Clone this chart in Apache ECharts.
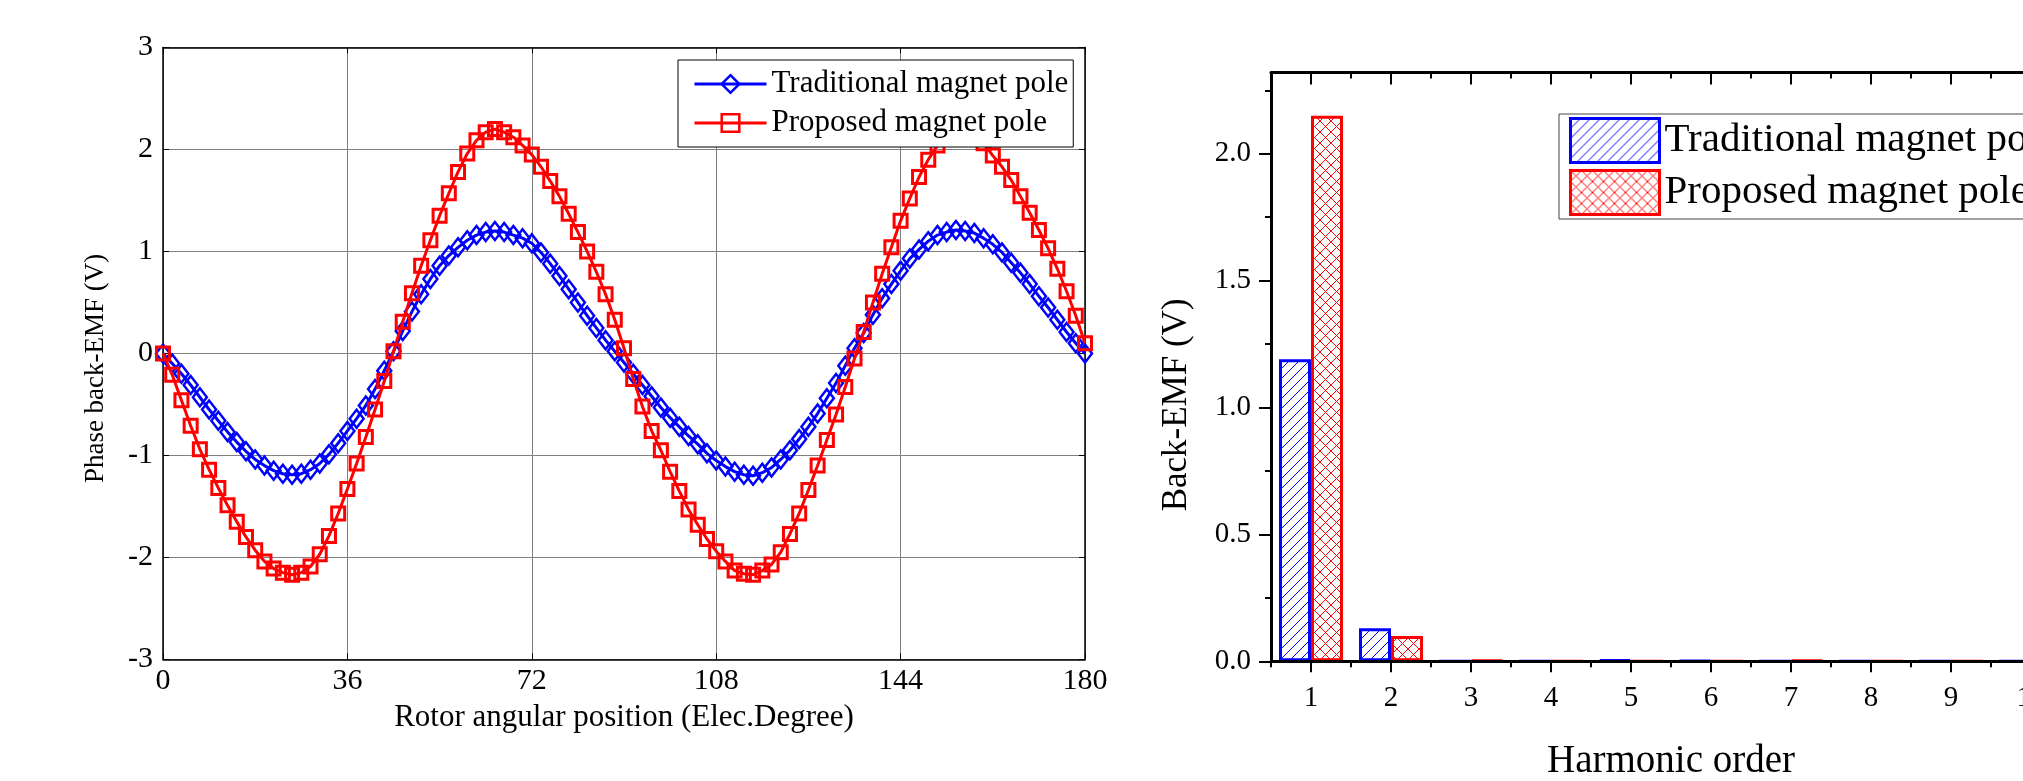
<!DOCTYPE html>
<html>
<head>
<meta charset="utf-8">
<script src="https://cdn.jsdelivr.net/npm/echarts@6/dist/echarts.min.js"></script>
<style>
html,body{margin:0;padding:0;background:#fff;overflow:hidden;}
#wrap{width:2023px;height:781px;overflow:hidden;position:relative;}
#c{width:2200px;height:781px;position:absolute;left:0;top:0;}
</style>
</head>
<body>
<div id="wrap"><div id="c"></div></div>
<script>
// ---------- Left chart data: phase back-EMF vs rotor position ----------
const angles = [0,1.8,3.6,5.4,7.2,9,10.8,12.6,14.4,16.2,18,19.8,21.6,23.4,25.2,27,28.8,30.6,32.4,34.2,
36,37.8,39.6,41.4,43.2,45,46.8,48.6,50.4,52.2,54,55.8,57.6,59.4,61.2,63,64.8,66.6,68.4,70.2,
72,73.8,75.6,77.4,79.2,81,82.8,84.6,86.4,88.2,90,91.8,93.6,95.4,97.2,99,100.8,102.6,104.4,106.2,
108,109.8,111.6,113.4,115.2,117,118.8,120.6,122.4,124.2,126,127.8,129.6,131.4,133.2,135,136.8,138.6,140.4,142.2,
144,145.8,147.6,149.4,151.2,153,154.8,156.6,158.4,160.2,162,163.8,165.6,167.4,169.2,171,172.8,174.6,176.4,178.2,180];

const traditionalEMF = [
0,-0.10,-0.20,-0.31,-0.43,-0.55,-0.66,-0.77,-0.87,-0.96,
-1.04,-1.10,-1.15,-1.18,-1.19,-1.18,-1.14,-1.08,-0.99,-0.88,
-0.76,-0.64,-0.51,-0.35,-0.17,0.02,0.22,0.41,0.58,0.73,
0.86,0.96,1.04,1.11,1.16,1.19,1.20,1.19,1.16,1.13,
1.08,0.99,0.88,0.76,0.63,0.50,0.37,0.25,0.13,0.02,
-0.09,-0.20,-0.31,-0.42,-0.53,-0.63,-0.72,-0.81,-0.89,-0.98,
-1.05,-1.11,-1.16,-1.19,-1.20,-1.17,-1.12,-1.04,-0.95,-0.84,
-0.72,-0.59,-0.44,-0.29,-0.12,0.05,0.20,0.38,0.54,0.68,
0.81,0.93,1.02,1.10,1.16,1.19,1.21,1.20,1.18,1.13,
1.07,0.99,0.89,0.79,0.68,0.56,0.45,0.33,0.21,0.10,
0.00];

const proposedEMF = [
0,-0.21,-0.46,-0.71,-0.94,-1.14,-1.32,-1.49,-1.65,-1.80,
-1.93,-2.04,-2.11,-2.15,-2.17,-2.15,-2.09,-1.97,-1.79,-1.57,
-1.33,-1.08,-0.82,-0.55,-0.27,0.02,0.31,0.59,0.86,1.11,
1.35,1.57,1.78,1.96,2.09,2.17,2.20,2.17,2.12,2.04,
1.95,1.83,1.69,1.54,1.37,1.19,1.00,0.80,0.58,0.33,
0.05,-0.25,-0.52,-0.76,-0.95,-1.16,-1.35,-1.53,-1.68,-1.82,
-1.94,-2.04,-2.13,-2.16,-2.17,-2.13,-2.07,-1.95,-1.77,-1.57,
-1.34,-1.10,-0.85,-0.60,-0.33,-0.05,0.21,0.50,0.78,1.04,
1.30,1.52,1.73,1.90,2.04,2.13,2.18,2.20,2.16,2.06,
1.94,1.83,1.70,1.54,1.38,1.21,1.03,0.83,0.61,0.37,
0.10];

const seriesNames = ['Traditional magnet pole', 'Proposed magnet pole'];

// ---------- Right chart data: harmonic spectrum ----------
const harmonicOrders = ['1','2','3','4','5','6','7','8','9','10'];
const traditionalHarmonics = [1.19, 0.13, 0, 0, 0.006, 0.003, 0, 0, 0, 0];
const proposedHarmonics   = [2.15, 0.10, 0.004, 0, 0, 0, 0.004, 0, 0, 0];
const harmonicYTicks = [0, 0.5, 1, 1.5, 2];
const harmonicYMinorTicks = [0.25, 0.75, 1.25, 1.75, 2.25];

// ---------- styling ----------
const FONT = "'Liberation Serif','Times New Roman',serif";
const BLUE = '#0000ff';
const RED = '#ff0000';

function hatch(color, size, cross) {
  const c = document.createElement('canvas');
  c.width = size; c.height = size;
  const g = c.getContext('2d');
  g.fillStyle = '#ffffff';
  g.fillRect(0, 0, size, size);
  g.strokeStyle = color;
  g.lineWidth = 1;
  g.beginPath();
  g.moveTo(-1, size + 1); g.lineTo(size + 1, -1);
  if (cross) { g.moveTo(-1, -1); g.lineTo(size + 1, size + 1); }
  g.stroke();
  return c;
}
const bluePattern = { image: hatch(BLUE, 10, false), repeat: 'repeat' };
const redPattern = { image: hatch(RED, 11, true), repeat: 'repeat' };

const lineData = (vals) => angles.map((a, i) => [a, vals[i]]);

const chart = echarts.init(document.getElementById('c'), null, { renderer: 'canvas' });

const blackLine = { show: true, onZero: false, lineStyle: { color: '#000', width: 1.5 } };

const option = {
  animation: false,
  backgroundColor: '#fff',
  textStyle: { fontFamily: FONT, color: '#000' },
  grid: [
    { left: 163, top: 47.5, width: 922, height: 611.8, outerBoundsMode: 'none', containLabel: false },
    { left: 1271, top: 72.5, width: 800, height: 588.8, outerBoundsMode: 'none', containLabel: false }
  ],
  legend: [
    {
      data: seriesNames,
      orient: 'vertical',
      left: 678, top: 60, z: 20,
      padding: [7, 5, 7, 15],
      itemWidth: 72, itemHeight: 22, itemGap: 5, itemTextGap: 7,
      borderColor: '#000', borderWidth: 1, backgroundColor: '#fff',
      itemStyle: { borderWidth: 2.5 },
      lineStyle: { width: 3 },
      textStyle: { fontFamily: FONT, fontSize: 31, color: '#000', lineHeight: 34 }
    },
    {
      data: seriesNames.map(n => 'H: ' + n),
      formatter: (n) => n.slice(3),
      orient: 'vertical',
      left: 1559, top: 114, z: 20,
      padding: [3, 10, 3, 10],
      icon: 'rect',
      itemWidth: 89, itemHeight: 44, itemGap: 5, itemTextGap: 10,
      borderColor: '#444', borderWidth: 1, backgroundColor: '#fff',
      itemStyle: { borderWidth: 3 },
      textStyle: { fontFamily: FONT, fontSize: 41, color: '#000', lineHeight: 44 }
    }
  ],
  xAxis: [
    { // 0 left bottom
      type: 'value', gridIndex: 0, position: 'bottom', min: 0, max: 180, interval: 36,
      axisLine: blackLine,
      axisTick: { inside: true, length: 6, lineStyle: { color: '#000', width: 1 } },
      axisLabel: { fontFamily: FONT, fontSize: 30, color: '#000', margin: 7 },
      splitLine: { show: true, lineStyle: { color: '#808080', width: 1 } },
      name: 'Rotor angular position (Elec.Degree)', nameLocation: 'middle', nameGap: 43,
      nameTextStyle: { fontFamily: FONT, fontSize: 31, color: '#000' }
    },
    { // 1 left top
      type: 'value', gridIndex: 0, position: 'top', min: 0, max: 180, interval: 36,
      axisLine: blackLine,
      axisTick: { inside: true, length: 6, lineStyle: { color: '#000', width: 1 } },
      axisLabel: { show: false }, splitLine: { show: false }
    },
    { // 2 right bottom main
      type: 'category', gridIndex: 1, position: 'bottom', data: harmonicOrders, z: 10,
      axisLine: { show: true, onZero: false, lineStyle: { color: '#000', width: 3 } },
      axisTick: { show: true, alignWithLabel: true, inside: false, length: 11, lineStyle: { color: '#000', width: 2 } },
      axisLabel: { fontFamily: FONT, fontSize: 29, color: '#000', margin: 23 },
      splitLine: { show: false },
      name: 'Harmonic order', nameLocation: 'middle', nameGap: 81,
      nameTextStyle: { fontFamily: FONT, fontSize: 39, color: '#000' }
    },
    { // 3 right bottom boundary ticks
      type: 'category', gridIndex: 1, position: 'bottom', data: harmonicOrders, z: 10,
      axisLine: { show: false, onZero: false },
      axisTick: { show: true, alignWithLabel: false, inside: false, length: 6, lineStyle: { color: '#000', width: 2 } },
      axisLabel: { show: false }, splitLine: { show: false }
    },
    { // 4 right top main
      type: 'category', gridIndex: 1, position: 'top', data: harmonicOrders, z: 10,
      axisLine: { show: true, onZero: false, lineStyle: { color: '#000', width: 3 } },
      axisTick: { show: true, alignWithLabel: true, inside: true, length: 12, lineStyle: { color: '#000', width: 2 } },
      axisLabel: { show: false }, splitLine: { show: false }
    },
    { // 5 right top boundary ticks
      type: 'category', gridIndex: 1, position: 'top', data: harmonicOrders, z: 10,
      axisLine: { show: false, onZero: false },
      axisTick: { show: true, alignWithLabel: false, inside: true, length: 6, lineStyle: { color: '#000', width: 2 } },
      axisLabel: { show: false }, splitLine: { show: false }
    }
  ],
  yAxis: [
    { // 0 left plot left
      type: 'value', gridIndex: 0, position: 'left', min: -3, max: 3, interval: 1,
      axisLine: blackLine,
      axisTick: { show: true, inside: true, length: 6, lineStyle: { color: '#000', width: 1 } },
      axisLabel: { fontFamily: FONT, fontSize: 30, color: '#000', margin: 10 },
      splitLine: { show: true, lineStyle: { color: '#808080', width: 1 } },
      name: 'Phase back-EMF (V)', nameLocation: 'middle', nameGap: 54,
      nameTextStyle: { fontFamily: FONT, fontSize: 27, color: '#000', padding: [0, 30, 0, 0] }
    },
    { // 1 left plot right
      type: 'value', gridIndex: 0, position: 'right', min: -3, max: 3, interval: 1,
      axisLine: blackLine,
      axisTick: { show: true, inside: true, length: 6, lineStyle: { color: '#000', width: 1 } },
      axisLabel: { show: false }, splitLine: { show: false }
    },
    { // 2 right plot main
      type: 'value', gridIndex: 1, position: 'left', min: 0, max: 2.32,
      axisLine: { show: true, onZero: false, lineStyle: { color: '#000', width: 3 } },
      axisTick: { show: true, inside: false, length: 12, customValues: harmonicYTicks, lineStyle: { color: '#000', width: 2 } },
      axisLabel: { fontFamily: FONT, fontSize: 29, color: '#000', margin: 20, customValues: harmonicYTicks,
                   formatter: (v) => Number(v).toFixed(1) },
      splitLine: { show: false },
      name: 'Back-EMF (V)', nameLocation: 'middle', nameGap: 77,
      nameTextStyle: { fontFamily: FONT, fontSize: 35, color: '#000', padding: [0, 76, 0, 0] }
    },
    { // 3 right plot minor ticks
      type: 'value', gridIndex: 1, position: 'left', min: 0, max: 2.32,
      axisLine: { show: false, onZero: false },
      axisTick: { show: true, inside: false, length: 6, customValues: harmonicYMinorTicks, lineStyle: { color: '#000', width: 2 } },
      axisLabel: { show: false }, splitLine: { show: false }
    }
  ],
  series: [
    {
      name: seriesNames[0], type: 'line', xAxisIndex: 0, yAxisIndex: 0,
      data: lineData(traditionalEMF),
      symbol: 'diamond', symbolSize: [14, 18], showAllSymbol: true,
      lineStyle: { color: BLUE, width: 3 },
      itemStyle: { color: 'rgba(255,255,255,0)', borderColor: BLUE, borderWidth: 2.5 },
      z: 3
    },
    {
      name: seriesNames[1], type: 'line', xAxisIndex: 0, yAxisIndex: 0,
      data: lineData(proposedEMF),
      symbol: 'rect', symbolSize: 13, showAllSymbol: true,
      lineStyle: { color: RED, width: 3 },
      itemStyle: { color: 'rgba(255,255,255,0)', borderColor: RED, borderWidth: 3 },
      z: 4
    },
    {
      name: 'H: ' + seriesNames[0], type: 'bar', xAxisIndex: 2, yAxisIndex: 2,
      data: traditionalHarmonics, barWidth: 32, barGap: '0%',
      itemStyle: { color: bluePattern, borderColor: BLUE, borderWidth: 3 }
    },
    {
      name: 'H: ' + seriesNames[1], type: 'bar', xAxisIndex: 2, yAxisIndex: 2,
      data: proposedHarmonics, barWidth: 32, barGap: '0%',
      itemStyle: { color: redPattern, borderColor: RED, borderWidth: 3 }
    }
  ]
};
chart.setOption(option);
</script>
</body>
</html>
